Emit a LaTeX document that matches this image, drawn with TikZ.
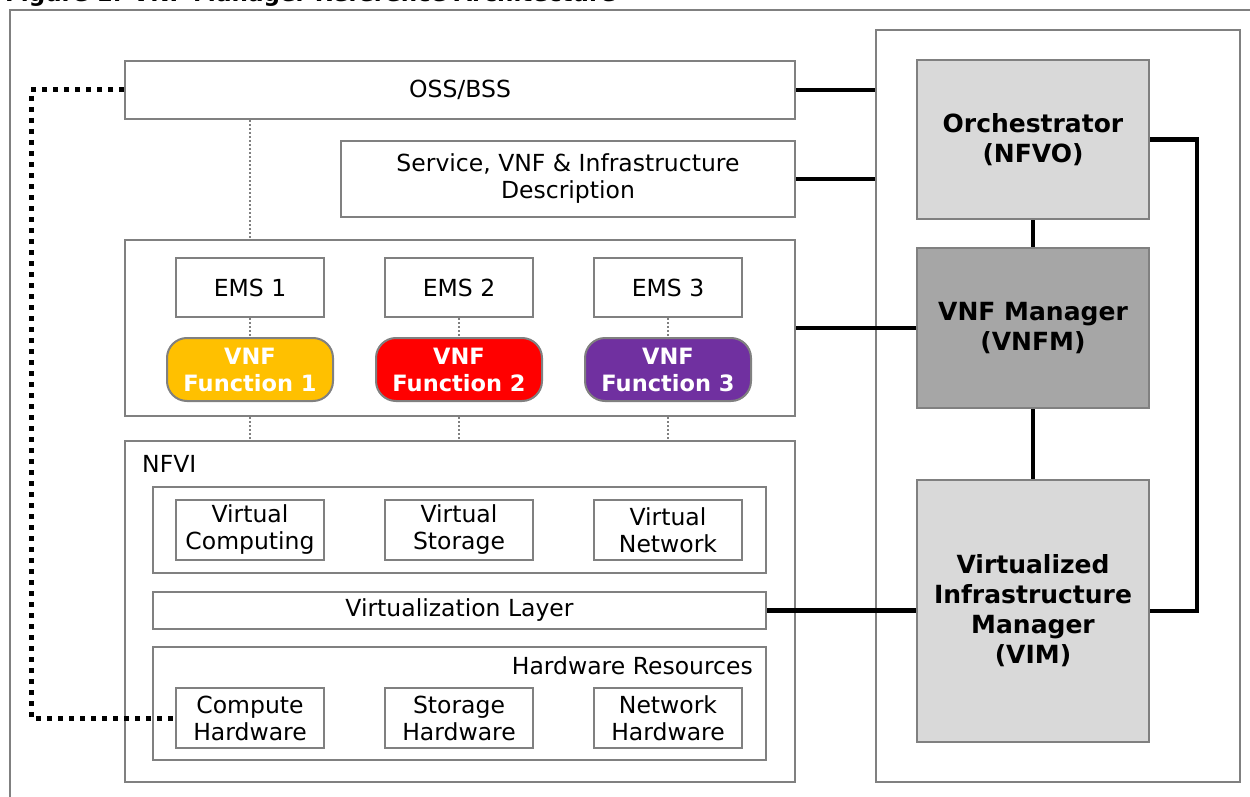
\documentclass[tikz,border=0pt]{standalone}
\usepackage{fontspec}
\setmainfont{DejaVu Sans}
\usepackage{tikz}
\usetikzlibrary{calc}

\definecolor{boxgray}{HTML}{808080}
\definecolor{nfvogray}{HTML}{D9D9D9}
\definecolor{vnfmgray}{HTML}{A6A6A6}
\definecolor{vnfyellow}{HTML}{FFC000}
\definecolor{vnfred}{HTML}{FF0000}
\definecolor{vnfpurple}{HTML}{7030A0}

\tikzset{
	box/.style={draw=boxgray, line width=2pt, fill=white, inner sep=0pt, align=center, font=\fontsize{23.5}{27}\selectfont},
	mano/.style={box, font=\bfseries\fontsize{25}{30}\selectfont},
	vnf/.style={box, rounded corners=20pt, text=white, font=\bfseries\fontsize{22.5}{27}\selectfont},
	link/.style={line width=4.5pt},
	mgmt/.style={line width=5pt, dash pattern=on 5pt off 6pt},
	peer/.style={boxgray, line width=1.2pt, dash pattern=on 2pt off 2pt},
	caption/.style={inner sep=0pt, font=\fontsize{23.5}{27}\selectfont}
}

\begin{document}
\begin{tikzpicture}[x=1pt, y=-1pt]

	\useasboundingbox (0,0) rectangle (1250,797);
	\fill[white] (0,0) rectangle (1250,797);

	% title and frame
	\node[anchor=base west, inner sep=0pt, font=\bfseries\fontsize{23}{26}\selectfont] (title) at (5,2) {Figure 1: VNF Manager Reference Architecture};
	\draw[boxgray, line width=2.5pt] (1270,10) -- (10,10) -- (10,815);

	% OSS, descriptors, VNFs
	\node[box, minimum width=670, minimum height=58] (oss) at (460,90) {OSS/BSS};
	\node[box, minimum width=454, minimum height=76] (svc) at (568,179) {Service, VNF \& Infrastructure\\Description};
	\node[box, minimum width=670, minimum height=176] (vnfs) at (460,328) {};

	\foreach \i/\x/\col in {1/250/vnfyellow, 2/459/vnfred, 3/668/vnfpurple} {
		\node[box, minimum width=148, minimum height=59] (ems\i) at (\x,287.5) {EMS \i};
		\node[vnf, fill=\col, minimum width=166, minimum height=63] (vnf\i) at (\x,369.5) {VNF\\Function \i};
	}

	% NFVI
	\node[box, minimum width=670, minimum height=341] (nfvi) at (460,611.5) {};
	\node[caption, anchor=west] (nfvilabel) at ([shift={(18,24)}]nfvi.north west) {NFVI};
	\node[box, minimum width=613, minimum height=86] (virt) at (459.5,530) {};
	\node[box, minimum width=613, minimum height=37] (vlayer) at (459.5,610.5) {Virtualization Layer};
	\node[box, minimum width=613, minimum height=113] (hw) at (459.5,703.5) {};
	\node[caption, anchor=east] (hwlabel) at ([shift={(-14,20)}]hw.north east) {Hardware Resources};

	\foreach \i/\x/\kind/\hwkind in {1/250/Computing/Compute, 2/459/Storage/Storage, 3/668/Network/Network} {
		\node[box, minimum width=148, minimum height=60] (vr\i) at (\x,530) {Virtual\\\kind};
		\node[box, minimum width=148, minimum height=60] (hw\i) at (\x,718) {\hwkind\\Hardware};
	}

	% MANO
	\node[box, minimum width=364, minimum height=752] (manobox) at (1057.5,406) {};
	\node[mano, fill=nfvogray, minimum width=232, minimum height=159] (nfvo) at (1033,139.5) {Orchestrator\\(NFVO)};
	\node[mano, fill=vnfmgray, minimum width=232, minimum height=160] (vnfm) at (1033,328) {VNF Manager\\(VNFM)};
	\node[mano, fill=nfvogray, minimum width=232, minimum height=262] (vim) at (1033,611) {Virtualized\\Infrastructure\\Manager\\(VIM)};

	% reference points
	\draw[link] (oss.east) -- (oss.east -| manobox.west);
	\draw[link] (svc.east) -- (svc.east -| manobox.west);
	\draw[link] (vnfs.east) -- (vnfm.west);
	\draw[link] (nfvo) -- (vnfm);
	\draw[link] (vnfm) -- (vim);
	\draw[link] (nfvo.east) -- ++(47,0) |- (vim.east);
	\draw[link] (vlayer.east) -- (vlayer.east -| vim.west);

	\draw[mgmt] (oss.west) -- ++(-93,0) |- (hw1.west);

	\draw[peer] (ems1 |- oss.south) -- (ems1 |- vnfs.north);
	\foreach \i in {1,2,3} {
		\draw[peer] (ems\i) -- (vnf\i);
		\draw[peer] (vnf\i |- vnfs.south) -- (vnf\i |- nfvi.north);
	}

\end{tikzpicture}
\end{document}
